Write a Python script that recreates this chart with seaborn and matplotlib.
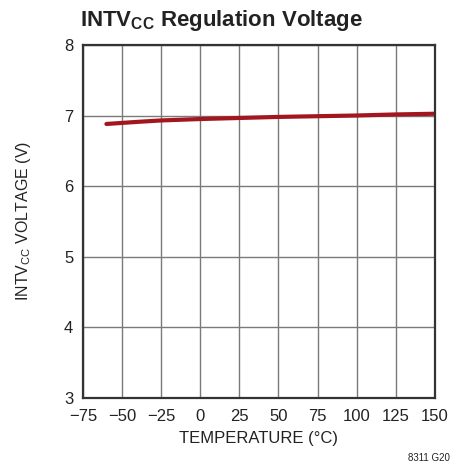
import matplotlib
matplotlib.use("Agg")
import matplotlib.pyplot as plt
import seaborn as sns
import pandas as pd
from matplotlib import font_manager

temperature = [-60, -40, -25, 0, 25, 50, 75, 100, 125, 150]
voltage = [6.88, 6.91, 6.93, 6.95, 6.965, 6.98, 6.99, 7.0, 7.015, 7.025]
x_ticks = [-75, -50, -25, 0, 25, 50, 75, 100, 125, 150]
y_ticks = [3, 4, 5, 6, 7, 8]

sns.set_style("white")
names = {f.name for f in font_manager.fontManager.ttflist}
fam = "Liberation Sans Narrow" if "Liberation Sans Narrow" in names else "Liberation Sans"
plt.rcParams["font.family"] = [fam, "DejaVu Sans"]
plt.rcParams["mathtext.fontset"] = "custom"
plt.rcParams["mathtext.rm"] = fam
plt.rcParams["mathtext.bf"] = fam + ":bold"

df = pd.DataFrame({"T": temperature, "V": voltage})

fig = plt.figure(figsize=(4.66, 4.68), dpi=100)
ax = fig.add_axes([0.178, 0.150, 0.755, 0.754])
sns.lineplot(data=df, x="T", y="V", ax=ax, color="#a3161f", linewidth=3)
ax.set_xlim(-75, 150)
ax.set_ylim(3, 8)
ax.set_xticks(x_ticks)
ax.set_yticks(y_ticks)
ax.set_xticklabels([str(t).replace("-", "\u2212") for t in x_ticks], fontsize=12, color="#222222")
ax.set_yticklabels([str(t) for t in y_ticks], fontsize=12, color="#222222")
ax.tick_params(axis="x", length=0, pad=8)
ax.tick_params(axis="y", length=0, pad=7)
ax.grid(True, color="#7a7a7a", linewidth=1)
for s in ax.spines.values():
    s.set_color("#333333")
    s.set_linewidth(1.6)
ax.set_xlabel("TEMPERATURE (°C)", fontsize=12, color="#222222")
ax.xaxis.set_label_coords(0.5, -0.093)
ax.set_ylabel(r"INTV$_{\mathregular{CC}}$ VOLTAGE (V)", fontsize=11.5, color="#222222")
ax.yaxis.set_label_coords(-0.142, 0.5)

fig.text(0.475, 0.957, r"INTV$_{\mathbf{CC}}$ Regulation Voltage", ha="center", va="center",
         fontsize=16, fontweight="bold", color="#222222")
fig.text(0.966, 0.021, "8311 G20", ha="right", va="center", fontsize=7, color="#222222")

fig.savefig("out.png", dpi=100)
